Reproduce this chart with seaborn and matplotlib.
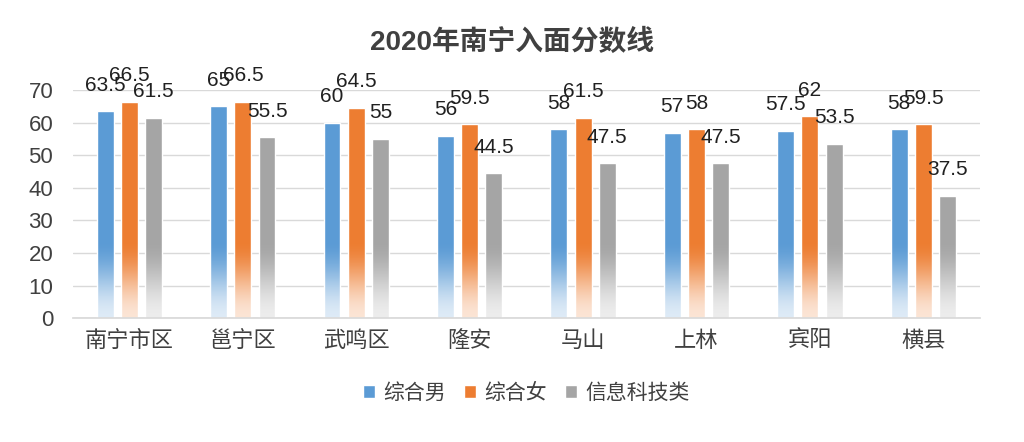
import matplotlib
matplotlib.use("Agg")
import matplotlib.pyplot as plt
import seaborn as sns
import pandas as pd
import numpy as np

categories = ["南宁市区", "邕宁区", "武鸣区", "隆安", "马山", "上林", "宾阳", "横县"]
series_names = ["综合男", "综合女", "信息科技类"]
male = [63.5, 65, 60, 56, 58, 57, 57.5, 58]
female = [66.5, 66.5, 64.5, 59.5, 61.5, 58, 62, 59.5]
info_tech = [61.5, 55.5, 55, 44.5, 47.5, 47.5, 53.5, 37.5]
yticks = [0, 10, 20, 30, 40, 50, 60, 70]

sns.set_theme(style="white")
plt.rcParams['font.family'] = ['Liberation Sans', 'Noto Sans CJK SC', 'DejaVu Sans']

rows = []
for name, vals in zip(series_names, [male, female, info_tech]):
    for c, v in zip(categories, vals):
        rows.append({"地区": c, "类别": name, "分数": v})
df = pd.DataFrame(rows)

colors = ["#5B9BD5", "#ED7D31", "#A5A5A5"]

fig = plt.figure(figsize=(10.24, 4.42), dpi=100)
ax = fig.add_axes([0.071, 0.28, 0.886, 0.516])
sns.barplot(data=df, x="地区", y="分数", hue="类别", palette=colors,
            width=0.64, gap=0.3, saturation=1, ax=ax, legend=True)

# soft fade toward the bottom of each bar
ny = 300
for cont in ax.containers:
    for p in cont.patches:
        x0 = p.get_x()
        w = p.get_width()
        h = p.get_height()
        ys = np.linspace(0, h, ny)
        t = np.clip((24 - ys) / 24, 0, 1)
        a = (t * t * (3 - 2 * t)) * 0.8
        img = np.ones((ny, 1, 4))
        img[:, 0, 3] = a
        ax.imshow(img, extent=[x0, x0 + w, 0, h], origin="lower", aspect="auto",
                  zorder=p.get_zorder() + 0.1, interpolation="bilinear")

ax.set_ylim(0, 70)
ax.set_yticks(yticks)
ax.set_xlim(-0.5, len(categories) - 0.5)
ax.yaxis.grid(True, color="#D9D9D9", linewidth=1)
ax.set_axisbelow(True)
for s in ["top", "right", "left"]:
    ax.spines[s].set_visible(False)
ax.spines["bottom"].set_color("#D9D9D9")
ax.tick_params(axis="y", labelsize=16, colors="#404040", length=0, pad=14)
ax.tick_params(axis="x", labelsize=16, colors="#404040", length=0, pad=9)
ax.set_xlabel("")
ax.set_ylabel("")

for cont in ax.containers:
    labels = [("%g" % v) for v in cont.datavalues]
    ax.bar_label(cont, labels=labels, padding=12, fontsize=15, color="#202020", clip_on=False)

ax.legend(loc="upper center", bbox_to_anchor=(0.5, -0.2), ncol=3, frameon=False,
          fontsize=15, handlelength=0.55, handleheight=0.55, handletextpad=0.4,
          columnspacing=0.9, labelcolor="#404040")

fig.text(0.5, 0.905, "2020年南宁入面分数线", ha="center", va="center",
         fontsize=20, fontweight="bold", color="#404040")

fig.savefig("out.png", dpi=100, facecolor="white")
